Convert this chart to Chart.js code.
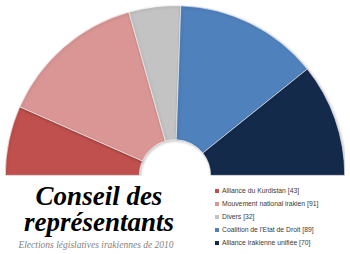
<!DOCTYPE html>
<html>
<head>
<meta charset="utf-8">
<script src="https://cdn.jsdelivr.net/npm/chart.js@4/dist/chart.umd.min.js"></script>
<style>
  html, body { margin: 0; padding: 0; background: #fff; }
  body { width: 350px; height: 254px; position: relative; overflow: hidden; }
  #wrap { position: absolute; left: 5px; top: 5px; width: 340px; height: 171px; }
  #title {
    position: absolute; left: 0; top: 183px; width: 198px; text-align: center;
    font-family: "Liberation Serif", serif; font-weight: bold; font-style: italic;
    font-size: 27px; line-height: 26px; color: #000;
  }
  #subtitle {
    position: absolute; left: 0; top: 240px; width: 192px; text-align: center;
    font-family: "Liberation Serif", serif; font-style: italic;
    font-size: 9.5px; color: #7f7f7f;
  }
  #legend { position: absolute; left: 215px; top: 184px; }
  .item {
    font-family: "Liberation Sans", sans-serif; font-size: 6.8px; color: #3a3a3a;
    height: 13.1px; line-height: 13px; white-space: nowrap;
  }
  .box { display: inline-block; width: 4px; height: 4px; margin-right: 3px; vertical-align: 0px; }
</style>
</head>
<body>
<div id="wrap"><canvas id="chart"></canvas></div>
<div id="title">Conseil des<br>représentants</div>
<div id="subtitle">Elections législatives irakiennes de 2010</div>
<div id="legend"></div>
<script>
const parties = ['Alliance du Kurdistan', 'Mouvement national irakien', 'Divers', "Coalition de l'Etat de Droit", 'Alliance irakienne unifiée'];
const seats = [43, 91, 32, 89, 70];
const colors = ['#c0504d', '#d99694', '#c3c3c3', '#4f81bd', '#142a4b'];

const labels = parties.map((p, i) => p + ' [' + seats[i] + ']');

const shadow = {
  id: 'shadow',
  beforeDatasetsDraw(chart) {
    const ctx = chart.ctx;
    ctx.save();
    ctx.shadowColor = 'rgba(0,0,0,0.25)';
    ctx.shadowBlur = 3;
    ctx.shadowOffsetX = 1;
    ctx.shadowOffsetY = 1;
  },
  afterDatasetsDraw(chart) {
    chart.ctx.restore();
  }
};

new Chart(document.getElementById('chart'), {
  type: 'doughnut',
  data: {
    labels: labels,
    datasets: [{
      data: seats,
      backgroundColor: colors,
      borderColor: '#ffffff',
      borderWidth: 0.6
    }]
  },
  options: {
    responsive: true,
    maintainAspectRatio: false,
    animation: false,
    rotation: -90,
    circumference: 180,
    cutout: '21%',
    layout: { padding: 0 },
    plugins: {
      legend: { display: false },
      tooltip: { enabled: false }
    }
  },
  plugins: [shadow]
});

const legend = document.getElementById('legend');
labels.forEach((l, i) => {
  const row = document.createElement('div');
  row.className = 'item';
  row.innerHTML = '<span class="box" style="background:' + colors[i] + '"></span>' + l;
  legend.appendChild(row);
});
</script>
</body>
</html>
